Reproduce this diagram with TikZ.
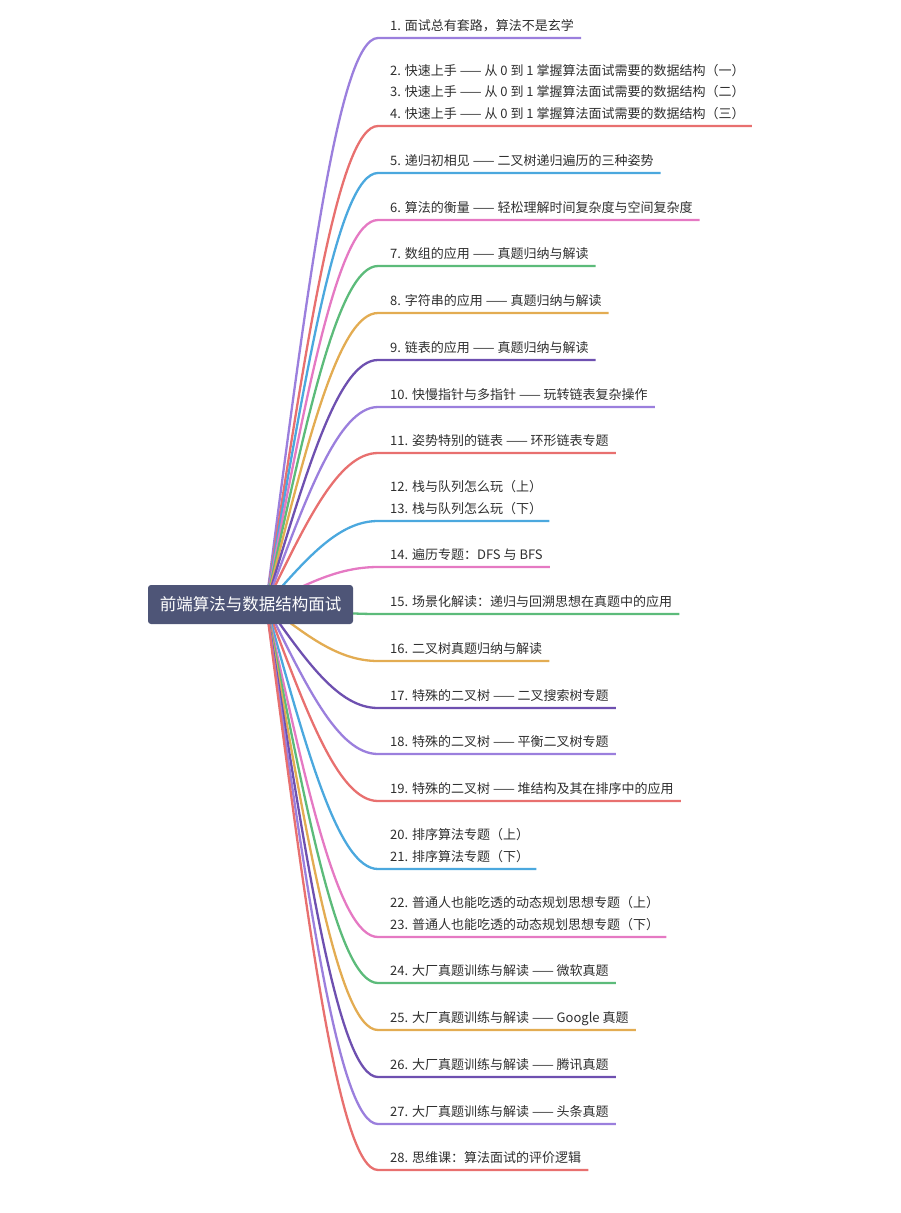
\documentclass[tikz,border=0pt]{standalone}
\usepackage{fontspec}
\newfontfamily\cjk{Noto Sans CJK SC}
\usepackage{tikz}
\usetikzlibrary{calc,backgrounds}
\definecolor{purA}{HTML}{9B7FDD}
\definecolor{redA}{HTML}{E8706F}
\definecolor{bluA}{HTML}{4BA8DE}
\definecolor{pinA}{HTML}{E579C3}
\definecolor{grnA}{HTML}{5CBB7A}
\definecolor{orgA}{HTML}{E3AC52}
\definecolor{dpuA}{HTML}{6E50B0}
\definecolor{slate}{HTML}{4E5577}
\definecolor{txtgray}{HTML}{2E2E2E}

\begin{document}
\begin{tikzpicture}[x=1pt, y=-1pt,
    item/.style={anchor=base west, inner sep=0pt, text=txtgray, font=\cjk\fontsize{13}{16}\selectfont},
    title/.style={fill=slate, text=white, rounded corners=3pt, minimum width=205pt, minimum height=39pt, font=\cjk\fontsize{16.5}{20}\selectfont},
    branch/.style={line width=2.3pt}]
    \useasboundingbox (0,0) rectangle (901,1213);

    % Root
    \node[title] (root) at (250.5,604.5) {前端算法与数据结构面试};

    % Chapters
    \node[item] (t1) at (390,30) {1. 面试总有套路，算法不是玄学};
    \node[item] (t2) at (390,75) {2. 快速上手 —— 从 0 到 1 掌握算法面试需要的数据结构（一）};
    \node[item] (t3) at (390,96.5) {3. 快速上手 —— 从 0 到 1 掌握算法面试需要的数据结构（二）};
    \node[item] (t4) at (390,118) {4. 快速上手 —— 从 0 到 1 掌握算法面试需要的数据结构（三）};
    \node[item] (t5) at (390,165) {5. 递归初相见 —— 二叉树递归遍历的三种姿势};
    \node[item] (t6) at (390,212) {6. 算法的衡量 —— 轻松理解时间复杂度与空间复杂度};
    \node[item] (t7) at (390,258) {7. 数组的应用 —— 真题归纳与解读};
    \node[item] (t8) at (390,305) {8. 字符串的应用 —— 真题归纳与解读};
    \node[item] (t9) at (390,352) {9. 链表的应用 —— 真题归纳与解读};
    \node[item] (t10) at (390,399) {10. 快慢指针与多指针 —— 玩转链表复杂操作};
    \node[item] (t11) at (390,445) {11. 姿势特别的链表 —— 环形链表专题};
    \node[item] (t12) at (390,491.5) {12. 栈与队列怎么玩（上）};
    \node[item] (t13) at (390,513) {13. 栈与队列怎么玩（下）};
    \node[item] (t14) at (390,559) {14. 遍历专题：DFS 与 BFS};
    \node[item] (t15) at (390,606) {15. 场景化解读：递归与回溯思想在真题中的应用};
    \node[item] (t16) at (390,653) {16. 二叉树真题归纳与解读};
    \node[item] (t17) at (390,700) {17. 特殊的二叉树 —— 二叉搜索树专题};
    \node[item] (t18) at (390,746) {18. 特殊的二叉树 —— 平衡二叉树专题};
    \node[item] (t19) at (390,793) {19. 特殊的二叉树 —— 堆结构及其在排序中的应用};
    \node[item] (t20) at (390,839.5) {20. 排序算法专题（上）};
    \node[item] (t21) at (390,861) {21. 排序算法专题（下）};
    \node[item] (t22) at (390,907.5) {22. 普通人也能吃透的动态规划思想专题（上）};
    \node[item] (t23) at (390,929) {23. 普通人也能吃透的动态规划思想专题（下）};
    \node[item] (t24) at (390,975) {24. 大厂真题训练与解读 —— 微软真题};
    \node[item] (t25) at (390,1022) {25. 大厂真题训练与解读 —— Google 真题};
    \node[item] (t26) at (390,1069) {26. 大厂真题训练与解读 —— 腾讯真题};
    \node[item] (t27) at (390,1116) {27. 大厂真题训练与解读 —— 头条真题};
    \node[item] (t28) at (390,1162) {28. 思维课：算法面试的评价逻辑};

    % Branches
    \begin{scope}[on background layer]
    \foreach \tn/\col in {t1/purA, t4/redA, t5/bluA, t6/pinA, t7/grnA, t8/orgA, t9/dpuA,
                       t10/purA, t11/redA, t13/bluA, t14/pinA, t15/grnA, t16/orgA, t17/dpuA,
                       t18/purA, t19/redA, t21/bluA, t23/pinA, t24/grnA, t25/orgA, t26/dpuA,
                       t27/purA, t28/redA}
        \draw[branch, \col] let \p1=([xshift=15.5pt]root.center), \p2=([yshift=-8pt]\tn.base west), \p3=([yshift=-8pt]\tn.base east) in
            (\p1) .. controls (\x1+40pt,{\y1+0.54*(\y2-(\y1))}) and (\x2-52pt,\y2) .. (\x2-12pt,\y2) -- (\x3+7pt,\y3);
    \end{scope}
\end{tikzpicture}
\end{document}
